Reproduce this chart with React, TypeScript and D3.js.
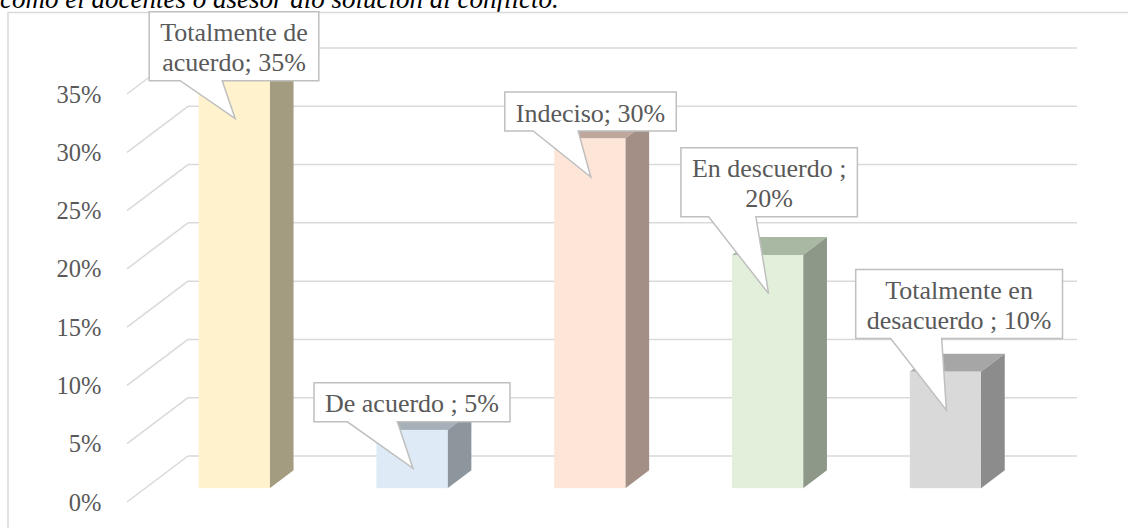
import React from "react";
import * as d3 from "d3";

const categories = [
  "Totalmente de acuerdo",
  "De acuerdo",
  "Indeciso",
  "En descuerdo",
  "Totalmente en desacuerdo",
];
const values = [0.35, 0.05, 0.3, 0.2, 0.1];
const labelLines = [
  ["Totalmente de", "acuerdo; 35%"],
  ["De acuerdo ; 5%"],
  ["Indeciso; 30%"],
  ["En descuerdo ;", "20%"],
  ["Totalmente en", "desacuerdo ; 10%"],
];
const yTicks = [0, 0.05, 0.1, 0.15, 0.2, 0.25, 0.3, 0.35];
const titleText = "como el docentes o asesor dio solución al conflicto.";

// layout (not data): colors & callout box placement relative to tail tip
const frontColors = ["#FFF2CC", "#DEEBF7", "#FDE5D8", "#E2EFDA", "#D9D9D9"];
const sideColors = ["#A39C81", "#8D959D", "#A38F86", "#8E9889", "#8C8C8C"];
const topColors = ["#BDB49A", "#A7B0B8", "#BFA79C", "#A9B8A2", "#A6A6A6"];
// box left offset from tip, box bottom offset above tip, tail base left/right offsets from tip
const boxLayout = [
  { left: -86, bottomAbove: 38, tailL: -55, tailR: -13 },
  { left: -99, bottomAbove: 46.6, tailL: -65.6, tailR: -15.6 },
  { left: -86, bottomAbove: 46, tailL: -57.6, tailR: -12.6 },
  { left: -87.7, bottomAbove: 76.7, tailL: -60, tailR: -12.7 },
  { left: -90.7, bottomAbove: 71.7, tailL: -55.7, tailR: -4.7 },
];

const W = 1128;
const H = 528;
const DX = -61;
const DY = 46;
const F_FRONT = 0.7;
const F_BACK = 0.31;
const FAMILY = "Liberation Serif, DejaVu Serif, serif";
const LABEL_FONT = `26px ${FAMILY}`;

function measure(text: string, font: string): number {
  const c = document.createElement("canvas");
  const ctx = c.getContext("2d");
  if (!ctx) return text.length * 11;
  ctx.font = font;
  return ctx.measureText(text).width;
}

export default function App() {
  const x = d3
    .scaleBand<string>()
    .domain(categories)
    .range([188, 1077])
    .paddingInner(0.6)
    .paddingOuter(0.3);
  const y = d3.scaleLinear().domain([0, 0.35]).range([456, 48]);
  const bw = x.bandwidth();
  const grid = "#D9D9D9";

  return (
    <svg
      width={W}
      height={H}
      style={{ position: "absolute", left: 0, top: 0, background: "#fff", fontFamily: FAMILY }}
    >
      <text x={0} y={7.5} fontSize={27} fontStyle="italic" fill="#000">
        {titleText}
      </text>
      <rect x={8} y={12.5} width={W + 20} height={H + 20} fill="#fff" stroke={grid} strokeWidth={1.5} />

      {/* gridlines: back wall + left side wall diagonals */}
      {yTicks.map((t) => (
        <g key={t}>
          <line x1={188} x2={1077} y1={y(t)} y2={y(t)} stroke={grid} strokeWidth={1.5} />
          <line x1={188 + DX} y1={y(t) + DY} x2={188} y2={y(t)} stroke={grid} strokeWidth={1.5} />
          <text
            x={101.5}
            y={y(t) + DY}
            dy="0.35em"
            textAnchor="end"
            fontSize={24.5}
            fill="#595959"
          >
            {`${Math.round(t * 100)}%`}
          </text>
        </g>
      ))}

      {/* bars */}
      {categories.map((c, i) => {
        const bx = x(c) as number;
        const v = values[i];
        const x1f = bx + DX * F_FRONT;
        const x2f = x1f + bw;
        const x1b = bx + DX * F_BACK;
        const x2b = x1b + bw;
        const ytf = y(v) + DY * F_FRONT;
        const ybf = y(0) + DY * F_FRONT;
        const ytb = y(v) + DY * F_BACK;
        const ybb = y(0) + DY * F_BACK;
        return (
          <g key={c}>
            <polygon
              points={`${x1f},${ytf} ${x2f},${ytf} ${x2b},${ytb} ${x1b},${ytb}`}
              fill={topColors[i]}
            />
            <polygon
              points={`${x2f},${ytf} ${x2f},${ybf} ${x2b},${ybb} ${x2b},${ytb}`}
              fill={sideColors[i]}
            />
            <rect x={x1f} y={ytf} width={bw} height={ybf - ytf} fill={frontColors[i]} />
          </g>
        );
      })}

      {/* callouts */}
      {categories.map((c, i) => {
        const bx = x(c) as number;
        const v = values[i];
        const x1f = bx + DX * F_FRONT;
        const ytf = y(v) + DY * F_FRONT;
        const tipX = x1f + bw / 2 + 1;
        const tipY = ytf + 38.5;
        const lay = boxLayout[i];
        const lines = labelLines[i];
        const tw = Math.max(...lines.map((l) => measure(l, LABEL_FONT)));
        const boxW = tw + 22;
        const boxH = lines.length === 1 ? 39 : 69;
        const left = tipX + lay.left;
        const right = left + boxW;
        const bottom = tipY - lay.bottomAbove;
        const top = bottom - boxH;
        const cx = (left + right) / 2;
        const d = [
          `M${left},${top}`,
          `H${right}`,
          `V${bottom}`,
          `H${tipX + lay.tailR}`,
          `L${tipX},${tipY}`,
          `L${tipX + lay.tailL},${bottom}`,
          `H${left}`,
          "Z",
        ].join(" ");
        return (
          <g key={c}>
            <path d={d} fill="#fff" stroke="#BFBFBF" strokeWidth={1.5} />
            {lines.map((l, k) => (
              <text
                key={k}
                x={cx}
                y={top + 20.5 + k * 30}
                dy="0.35em"
                textAnchor="middle"
                fontSize={26}
                fill="#595959"
              >
                {l}
              </text>
            ))}
          </g>
        );
      })}
    </svg>
  );
}
